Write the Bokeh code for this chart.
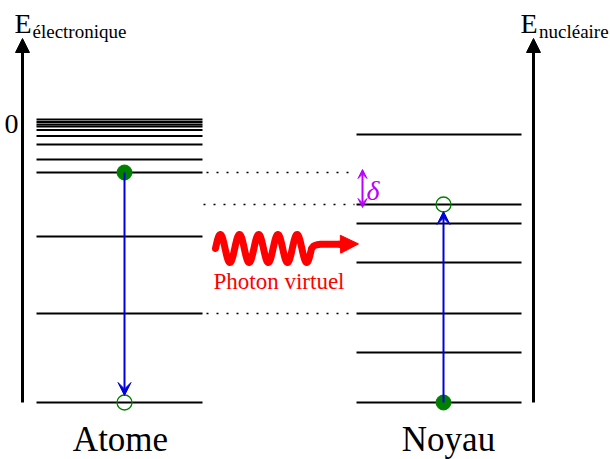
import numpy as np
from bokeh.plotting import figure
from bokeh.models import Range1d, Arrow, NormalHead, VeeHead
from bokeh.core.properties import value
from bokeh.embed import file_html
from bokeh.resources import INLINE

# Energy levels in arbitrary units (ground state = 0), drawn as horizontal bars
atom_levels = [283, 280.5, 278, 276, 272.5, 266.5, 258, 243, 230, 166, 89, 0]
nucleus_levels = [268, 198, 179, 140, 89, 50, 0]

# transitions
atom_from, atom_to = 230, 0          # electron de-excitation
nucleus_from, nucleus_to = 0, 198    # nuclear excitation
# dotted guides linking the atomic levels to the nuclear side
guide_levels = [230, 198, 89]
labels = ["Atome", "Noyau"]

FONT = value("'Liberation Serif', serif")
GREEN = "#008000"
BLUE = "#0000dd"
PURPLE = "#bb00ff"
RED = "#ff0000"

p = figure(width=610, height=459, output_backend="svg", toolbar_location=None,
           x_range=Range1d(0, 610), y_range=Range1d(-57, 402),
           x_axis_location=None, y_axis_location=None, min_border=0)
p.grid.visible = False
p.outline_line_color = None
p.background_fill_color = "white"
p.border_fill_color = "white"

ATOM_X0, ATOM_X1 = 36, 202
NUC_X0, NUC_X1 = 356, 521
ATOM_XC, NUC_XC = 124, 443

# energy axes
for xa in (22, 533):
    p.add_layout(Arrow(x_start=xa, y_start=0, x_end=xa, y_end=364,
                       line_width=3, line_color="black",
                       end=NormalHead(size=14, fill_color="black", line_color="black")))

# level bars
p.segment(x0=[ATOM_X0] * len(atom_levels), x1=[ATOM_X1] * len(atom_levels),
          y0=atom_levels, y1=atom_levels, line_color="black", line_width=2)
p.segment(x0=[NUC_X0] * len(nucleus_levels), x1=[NUC_X1] * len(nucleus_levels),
          y0=nucleus_levels, y1=nucleus_levels, line_color="black", line_width=2)

# dotted guides
guide_x0 = [206, 203, 206]
guide_x1 = [356, 354, 356]
p.segment(x0=guide_x0, x1=guide_x1, y0=guide_levels, y1=guide_levels,
          line_color="black", line_width=1.5, line_dash="2 8")

# transition arrows
p.add_layout(Arrow(x_start=ATOM_XC, y_start=atom_from, x_end=ATOM_XC, y_end=atom_to + 7,
                   line_width=2, line_color=BLUE,
                   end=VeeHead(size=13, fill_color=BLUE, line_color=BLUE)))
p.add_layout(Arrow(x_start=NUC_XC, y_start=nucleus_from, x_end=NUC_XC, y_end=nucleus_to - 7,
                   line_width=2, line_color=BLUE,
                   end=VeeHead(size=13, fill_color=BLUE, line_color=BLUE)))

# occupied (filled) and final (empty) states
p.scatter([ATOM_XC, NUC_XC], [atom_from, nucleus_from], size=15,
          fill_color=GREEN, line_color=GREEN)
p.scatter([ATOM_XC, NUC_XC], [atom_to, nucleus_to], size=15,
          fill_color=None, line_color=GREEN, line_width=1.3)

# energy mismatch delta
delta_top = guide_levels[0]
delta_bot = guide_levels[1]
p.add_layout(Arrow(x_start=362, y_start=delta_bot - 3, x_end=362, y_end=delta_top + 3,
                   line_width=2, line_color=PURPLE,
                   start=VeeHead(size=9, fill_color=PURPLE, line_color=PURPLE),
                   end=VeeHead(size=9, fill_color=PURPLE, line_color=PURPLE)))
p.text(x=[366], y=[212], text=["δ"], text_font=FONT, text_font_style="italic",
       text_font_size="28px", text_color=PURPLE, text_baseline="alphabetic")

# virtual photon: wavy line ending in an arrow
wx = np.linspace(215, 311, 300)
wy = 154 + 14 * np.sin(2 * np.pi * (wx - 215) / 19.2)
wx = np.concatenate([wx, [313.5, 316.5, 320, 344]])
wy = np.concatenate([wy, [156.8, 157.8, 158.2, 158.2]])
p.line(wx, wy, line_color=RED, line_width=7, line_cap="round", line_join="round")
p.add_layout(Arrow(x_start=338, y_start=158.2, x_end=358, y_end=158.6,
                   line_width=7, line_color=RED,
                   end=NormalHead(size=18, fill_color=RED, line_color=RED)))
p.text(x=[278.5], y=[121], text=["Photon virtuel"], text_font=FONT,
       text_font_size="23px", text_color=RED, text_align="center",
       text_baseline="alphabetic")

# axis titles
p.text(x=[14, 520], y=[379, 379], text=["E", "E"], text_font=FONT,
       text_font_size="28px", text_color="black", text_baseline="alphabetic")
p.text(x=[32, 538.5], y=[371, 371], text=["électronique", "nucléaire"], text_font=FONT,
       text_font_size="19px", text_color="black", text_baseline="alphabetic")
p.text(x=[4], y=[279], text=["0"], text_font=FONT,
       text_font_size="28px", text_color="black", text_baseline="alphabetic")

# system labels
p.text(x=[120, 448], y=[-37, -37], text=labels, text_font=FONT,
       text_font_size="35px", text_color="black", text_align="center",
       text_baseline="alphabetic")

open("out.html", "w").write(file_html(p, INLINE))
